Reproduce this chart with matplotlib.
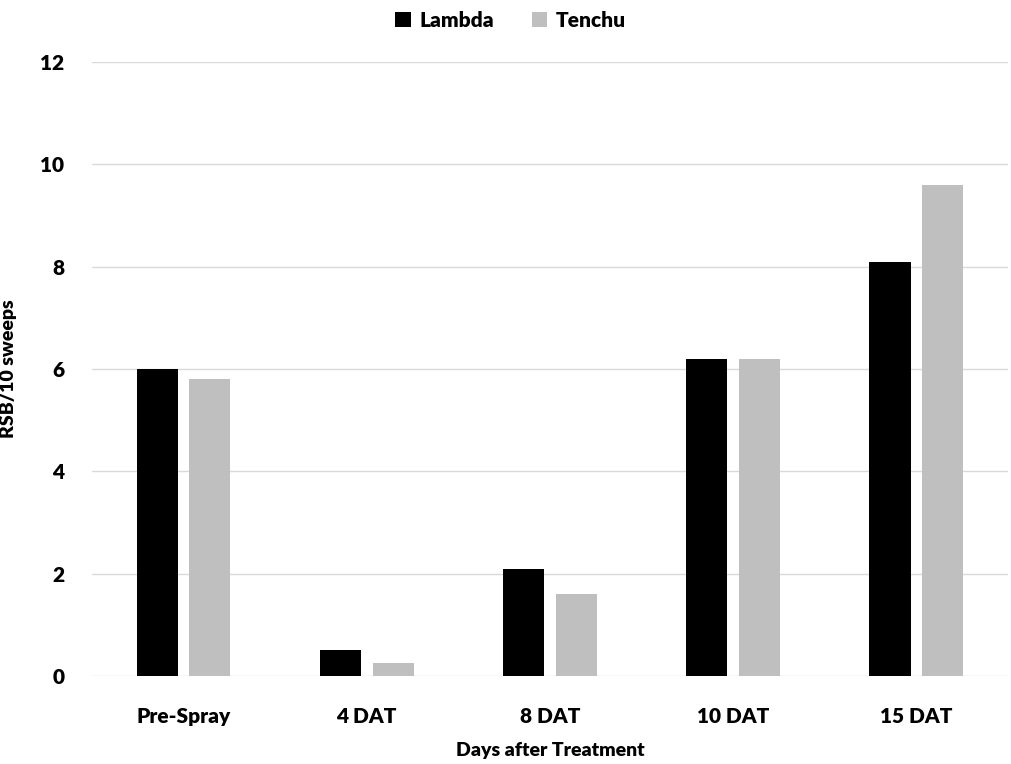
import matplotlib
matplotlib.use('Agg')
import matplotlib.pyplot as plt
import numpy as np

plt.rcParams['font.family'] = ['Lato', 'DejaVu Sans']
plt.rcParams['font.weight'] = 'heavy'

categories = ['Pre-Spray', '4 DAT', '8 DAT', '10 DAT', '15 DAT']
lambda_vals = [6.0, 0.5, 2.1, 6.2, 8.1]
tenchu_vals = [5.8, 0.25, 1.6, 6.2, 9.6]

fig = plt.figure(figsize=(10.11, 7.64), dpi=100)
ax = fig.add_axes([0.091, 0.1152, 0.906, 0.8036])

x = np.arange(len(categories))
width = 0.224
ax.bar(x - 0.144, lambda_vals, width, color='black', label='Lambda', zorder=3)
ax.bar(x + 0.144, tenchu_vals, width, color='#bfbfbf', label='Tenchu', zorder=3)

ax.set_xlim(-0.5, len(categories) - 0.5)
ax.set_ylim(0, 12)
ax.set_yticks(range(0, 13, 2))
ax.set_xticks(x)
ax.set_xticklabels(categories, fontsize=15, fontweight='heavy')
for lbl in ax.get_yticklabels():
    lbl.set_fontsize(15)
    lbl.set_fontweight('heavy')
ax.tick_params(axis='both', length=0)
ax.tick_params(axis='x', pad=22)
ax.tick_params(axis='y', pad=20)

ax.grid(axis='y', color='#d9d9d9', linewidth=1, zorder=0)
for s in ax.spines.values():
    s.set_visible(False)

ax.set_xlabel('Days after Treatment', fontsize=14, fontweight='heavy', labelpad=12)
ax.set_ylabel('RSB/10 sweeps', fontsize=14, fontweight='heavy')
ax.yaxis.set_label_coords(-0.082, 0.5)

fig.legend(loc='upper center', bbox_to_anchor=(0.505, 1.01), ncol=2, frameon=False,
           prop={'size': 15, 'weight': 'heavy'}, handlelength=0.75, handleheight=0.75,
           handletextpad=0.4, columnspacing=1.8)

plt.savefig('out.png', dpi=100)
